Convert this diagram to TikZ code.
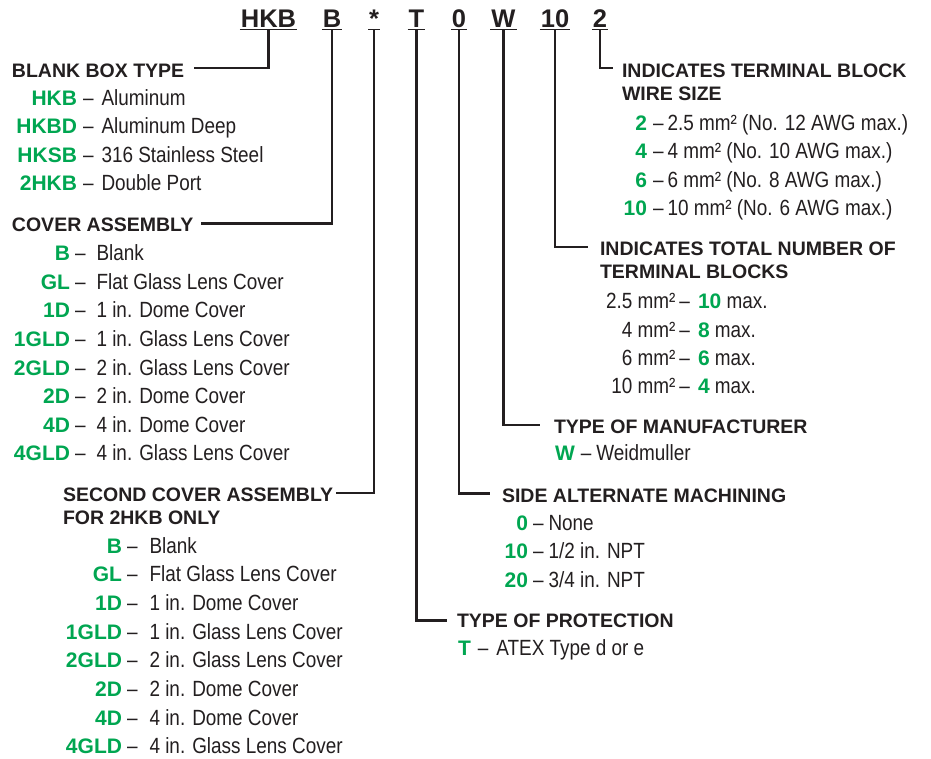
\documentclass[tikz,border=0pt]{standalone}
\usepackage{fontspec}
\setmainfont{Liberation Sans}
\newfontfamily\condfont{Liberation Sans}[FakeStretch=0.86]
\usetikzlibrary{calc}
\definecolor{grn}{HTML}{00A651}
\definecolor{ink}{HTML}{231F20}
\newcommand\gcode[1]{{\normalfont\fontsize{21}{24}\selectfont\bfseries\color{grn}#1}}
\newcommand\crow[5]{\node[row] (#1) at (#2,#3) {\makebox[0pt][r]{\gcode{#4}}#5};}
\begin{document}
\begin{tikzpicture}[x=1pt,y=-1pt,
  every node/.style={inner sep=0pt, outer sep=0pt, text=ink},
  row/.style={anchor=base west, font=\condfont\fontsize{22}{24}\selectfont},
  head/.style={anchor=base west, font=\fontsize{19.5}{23}\selectfont\bfseries},
  code/.style={anchor=base, font=\fontsize{25.5}{30}\selectfont\bfseries},
  conn/.style={draw=ink, line width=2.3pt},
  uline/.style={draw=ink, line width=1.3pt}]
\useasboundingbox[fill=white] (0,0) rectangle (931,758);

% top code
\node[code] (cHKB) at (268.5,27) {HKB};
\node[code] (cB)   at (332,27) {B};
\node[code] (cS)   at (374,27) {*};
\node[code] (cT)   at (416.5,27) {T};
\node[code] (c0)   at (459,27) {0};
\node[code] (cW)   at (503.5,27) {W};
\node[code] (c10)  at (555,27) {10};
\node[code] (c2)   at (600,27) {2};
\foreach \n in {cHKB,cB,cS,cT,c0,cW,c10,c2}{
  \draw[uline] ($(\n.base west)+(-1,2.8)$) -- ($(\n.base east)+(1,2.8)$);
}

% headings
\node[head] (hBBT) at (12,77) {BLANK BOX TYPE};
\node[head] (hCOV) at (12,231) {COVER ASSEMBLY};
\node[head] (hSEC) at (63,501) {SECOND COVER ASSEMBLY};
\node[head] (hSEC2) at (63,524) {FOR 2HKB ONLY};
\node[head] (hWIR) at (622,77) {INDICATES TERMINAL BLOCK};
\node[head] (hWIR2) at (622,100) {WIRE SIZE};
\node[head] (hTOT) at (600,255) {INDICATES TOTAL NUMBER OF};
\node[head] (hTOT2) at (600,278) {TERMINAL BLOCKS};
\node[head] (hMAN) at (554,433) {TYPE OF MANUFACTURER};
\node[head] (hSAM) at (502,502) {SIDE ALTERNATE MACHINING};
\node[head] (hTOP) at (457,627) {TYPE OF PROTECTION};

% connectors
\draw[conn] ($(cHKB.base)+(0,2)$) |- ($(hBBT.base east)+(10,-9)$);
\draw[conn] ($(cB.base)+(0,2)$) |- ($(hCOV.base east)+(8,-7.5)$);
\draw[conn] ($(cS.base)+(0,2)$) |- ($(hSEC.base east)+(3,-8)$);
\draw[conn] ($(cT.base)+(0,2)$) |- ($(hTOP.base west)+(-10,-6.5)$);
\draw[conn] ($(c0.base)+(0,2)$) |- ($(hSAM.base west)+(-12,-8.5)$);
\draw[conn] ($(cW.base)+(0,2)$) |- ($(hMAN.base west)+(-14,-8)$);
\draw[conn] ($(c10.base)+(0,2)$) |- ($(hTOT.base west)+(-12,-8)$);
\draw[conn] ($(c2.base)+(0,2)$) |- ($(hWIR.base west)+(-9,-9)$);

% blank box type
\crow{b1}{77}{105}{HKB}{\hspace{6pt}–\hspace{8pt}Aluminum}
\crow{b2}{77}{133}{HKBD}{\hspace{6pt}–\hspace{8pt}Aluminum Deep}
\crow{b3}{77}{162}{HKSB}{\hspace{6pt}–\hspace{8pt}316 Stainless Steel}
\crow{b4}{77}{190}{2HKB}{\hspace{6pt}–\hspace{8pt}Double Port}

% cover assembly
\crow{a1}{70}{260}{B}{\hspace{5pt}–\hspace{11pt}Blank}
\crow{a2}{70}{289}{GL}{\hspace{5pt}–\hspace{11pt}Flat Glass Lens Cover}
\crow{a3}{70}{317}{1D}{\hspace{5pt}–\hspace{11pt}1 in. Dome Cover}
\crow{a4}{70}{346}{1GLD}{\hspace{5pt}–\hspace{11pt}1 in. Glass Lens Cover}
\crow{a5}{70}{375}{2GLD}{\hspace{5pt}–\hspace{11pt}2 in. Glass Lens Cover}
\crow{a6}{70}{403}{2D}{\hspace{5pt}–\hspace{11pt}2 in. Dome Cover}
\crow{a7}{70}{432}{4D}{\hspace{5pt}–\hspace{11pt}4 in. Dome Cover}
\crow{a8}{70}{460}{4GLD}{\hspace{5pt}–\hspace{11pt}4 in. Glass Lens Cover}

% second cover assembly
\crow{s1}{122}{553}{B}{\hspace{5pt}–\hspace{12pt}Blank}
\crow{s2}{122}{581}{GL}{\hspace{5pt}–\hspace{12pt}Flat Glass Lens Cover}
\crow{s3}{122}{610}{1D}{\hspace{5pt}–\hspace{12pt}1 in. Dome Cover}
\crow{s4}{122}{639}{1GLD}{\hspace{5pt}–\hspace{12pt}1 in. Glass Lens Cover}
\crow{s5}{122}{667}{2GLD}{\hspace{5pt}–\hspace{12pt}2 in. Glass Lens Cover}
\crow{s6}{122}{696}{2D}{\hspace{5pt}–\hspace{12pt}2 in. Dome Cover}
\crow{s7}{122}{725}{4D}{\hspace{5pt}–\hspace{12pt}4 in. Dome Cover}
\crow{s8}{122}{753}{4GLD}{\hspace{5pt}–\hspace{12pt}4 in. Glass Lens Cover}

% wire size
\crow{w1}{647}{130}{2}{\hspace{6pt}–\hspace{4pt}2.5 mm² (No. 12 AWG max.)}
\crow{w2}{647}{158}{4}{\hspace{6pt}–\hspace{4pt}4 mm² (No. 10 AWG max.)}
\crow{w3}{647}{187}{6}{\hspace{6pt}–\hspace{4pt}6 mm² (No. 8 AWG max.)}
\crow{w4}{647}{215}{10}{\hspace{6pt}–\hspace{4pt}10 mm² (No. 6 AWG max.)}

% total number
\node[row] (t1) at (698,308) {\makebox[0pt][r]{2.5 mm²\hspace{4pt}–\hspace{8pt}}\gcode{10} max.};
\node[row] (t2) at (698,337) {\makebox[0pt][r]{4 mm²\hspace{4pt}–\hspace{8pt}}\gcode{8} max.};
\node[row] (t3) at (698,365) {\makebox[0pt][r]{6 mm²\hspace{4pt}–\hspace{8pt}}\gcode{6} max.};
\node[row] (t4) at (698,393) {\makebox[0pt][r]{10 mm²\hspace{4pt}–\hspace{8pt}}\gcode{4} max.};

% manufacturer
\node[row] (m1) at (555,460) {\gcode{W}\hspace{6pt}–\hspace{5pt}Weidmuller};

% side alternate machining
\crow{sa1}{528}{530}{0}{\hspace{5pt}–\hspace{5pt}None}
\crow{sa2}{528}{558}{10}{\hspace{5pt}–\hspace{5pt}1/2 in. NPT}
\crow{sa3}{528}{587}{20}{\hspace{5pt}–\hspace{5pt}3/4 in. NPT}

% protection
\node[row] (p1) at (458,655) {\gcode{T}\hspace{7pt}–\hspace{8pt}ATEX Type d or e};
\end{tikzpicture}
\end{document}
